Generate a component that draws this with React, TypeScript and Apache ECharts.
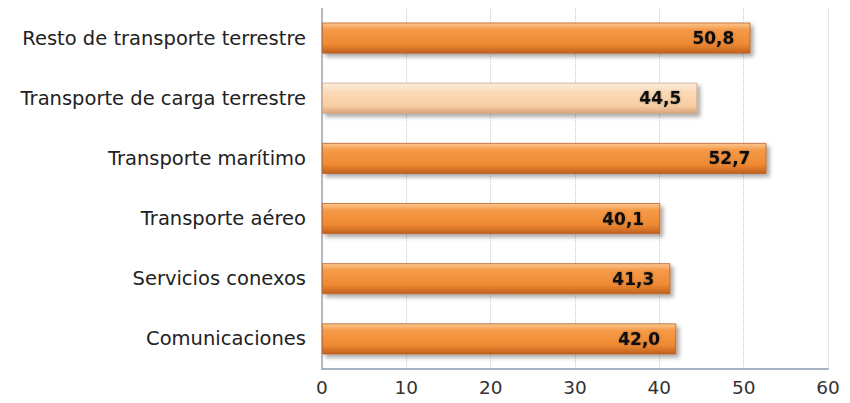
import React, { useEffect, useRef } from "react";
import * as echarts from "echarts";

// Categories listed bottom to top (ECharts category axis grows upward)
const categories = [
  "Comunicaciones",
  "Servicios conexos",
  "Transporte aéreo",
  "Transporte marítimo",
  "Transporte de carga terrestre",
  "Resto de transporte terrestre",
];
const values = [42.0, 41.3, 40.1, 52.7, 44.5, 50.8];
const highlighted = "Transporte de carga terrestre";
const xTicks = [0, 10, 20, 30, 40, 50, 60];

const FONT = "DejaVu Sans, Liberation Sans, Arial, sans-serif";

const orange = new echarts.graphic.LinearGradient(0, 0, 0, 1, [
  { offset: 0, color: "#fbc890" },
  { offset: 0.22, color: "#f59a48" },
  { offset: 0.7, color: "#ef8a33" },
  { offset: 1, color: "#c0601d" },
]);
const peach = new echarts.graphic.LinearGradient(0, 0, 0, 1, [
  { offset: 0, color: "#fdeedd" },
  { offset: 0.3, color: "#fbd9b6" },
  { offset: 0.75, color: "#f8cea4" },
  { offset: 1, color: "#d9a47a" },
]);

export default function App() {
  const ref = useRef<HTMLDivElement>(null);

  useEffect(() => {
    if (!ref.current) return;
    const chart = echarts.init(ref.current, undefined, { renderer: "svg" });
    chart.setOption({
      animation: false,
      grid: { left: 322, right: 22, top: 8, bottom: 34 },
      xAxis: {
        type: "value",
        min: xTicks[0],
        max: xTicks[xTicks.length - 1],
        interval: 10,
        axisLine: { show: true, lineStyle: { color: "#a9b3c6", width: 2 } },
        axisTick: { show: false },
        axisLabel: {
          color: "#333",
          fontSize: 18.5,
          fontFamily: FONT,
          margin: 9,
        },
        splitLine: {
          show: true,
          lineStyle: { color: "#c9ccd6", type: "dotted", width: 1 },
        },
      },
      yAxis: {
        type: "category",
        data: categories,
        axisLine: { show: true, lineStyle: { color: "#b5b8c2", width: 2 } },
        axisTick: { show: false },
        axisLabel: {
          color: "#222",
          fontSize: 19.5,
          fontFamily: FONT,
          margin: 16,
        },
      },
      series: [
        {
          type: "bar",
          data: categories.map((c, i) => ({
            value: values[i],
            itemStyle: {
              color: c === highlighted ? peach : orange,
              borderColor: c === highlighted ? "#c9a587" : "#b8612a",
              borderWidth: 0.8,
              shadowColor: "rgba(0,0,0,0.35)",
              shadowBlur: 4,
              shadowOffsetX: 3,
              shadowOffsetY: 3,
            },
          })),
          barWidth: 31,
          label: {
            show: true,
            position: "insideRight",
            distance: 16,
            formatter: (p: any) => p.value.toFixed(1).replace(".", ","),
            color: "#111",
            fontSize: 17,
            fontWeight: "bold",
            fontFamily: FONT,
            textShadowColor: "rgba(0,0,0,0.35)",
            textShadowBlur: 2,
          },
        },
      ],
    });
    return () => chart.dispose();
  }, []);

  return <div ref={ref} style={{ width: 850, height: 403, margin: -8 }} />;
}
